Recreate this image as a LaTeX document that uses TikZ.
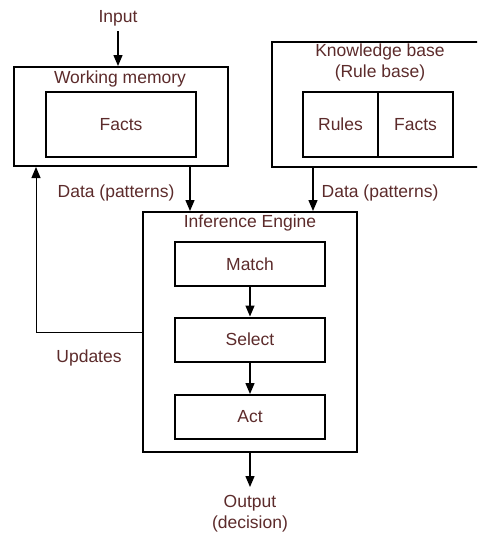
\documentclass[tikz,border=0pt]{standalone}
\usepackage{fontspec}
\setmainfont{Liberation Sans}
\usetikzlibrary{arrows.meta}
\definecolor{txt}{HTML}{5C2B2B}
\begin{document}
\begin{tikzpicture}[x=1pt,y=-1pt,
  lbl/.style={text=txt,font=\fontsize{17.5}{21}\selectfont,inner sep=0pt},
  outerbox/.style={draw,line width=2pt,rectangle,inner sep=0pt},
  innerbox/.style={draw,line width=2pt,rectangle,inner sep=0pt,text=txt,font=\fontsize{17.5}{21}\selectfont},
  flow/.style={line width=1.4pt,-{Triangle[width=9pt,length=11pt]}},
  thin flow/.style={line width=1pt,-{Triangle[width=9pt,length=11pt]}}]
\useasboundingbox (0,0) rectangle (477,533);
\clip (0,0) rectangle (477,533);

% working memory
\node[lbl] (input) at (118,18) {Input};
\node[outerbox,minimum width=214pt,minimum height=99pt] (wm) at (121,116.5) {};
\node[lbl] (wmlabel) at (120,79) {Working memory};
\node[innerbox,minimum width=150pt,minimum height=65pt] (wmfacts) at (121,124.5) {Facts};

% knowledge base (runs past the right edge)
\node[outerbox,minimum width=218pt,minimum height=125pt] (kb) at (381,104.5) {};
\node[lbl] (kblabel) at (380,52) {Knowledge base};
\node[lbl] (kblabel2) at (380,73) {(Rule base)};
\node[innerbox,minimum width=75pt,minimum height=65pt] (rules) at (340.5,124.5) {Rules};
\node[innerbox,minimum width=75pt,minimum height=65pt] (kbfacts) at (415.5,124.5) {Facts};

% inference engine
\node[outerbox,minimum width=214pt,minimum height=240pt] (ie) at (250,332) {};
\node[lbl] (ielabel) at (250,223) {Inference Engine};
\node[innerbox,minimum width=150pt,minimum height=44pt] (match) at (250,264) {Match};
\node[innerbox,minimum width=150pt,minimum height=44pt] (select) at (250,339.5) {Select};
\node[innerbox,minimum width=150pt,minimum height=44pt] (act) at (250,417) {Act};

% side labels and output
\node[lbl] (dataL) at (116,193) {Data (patterns)};
\node[lbl] (dataR) at (380,193) {Data (patterns)};
\node[lbl] (updates) at (89,358) {Updates};
\node[lbl,align=center] (output) at (250,514) {Output\\(decision)};
\coordinate (outend) at (250,487);
\coordinate (upcorner) at (36,332);

% connectors
\draw[flow] (input.south) ++(0,5) -- (input.south |- wm.north);
\draw[flow] (wm.south -| 190,0) -- (ie.north -| 190,0);
\draw[flow] (kb.south -| 313,0) -- (ie.north -| 313,0);
\draw[flow] (match) -- (select);
\draw[flow] (select) -- (act);
\draw[flow] (ie.south) -- (outend);
\draw[thin flow] (ie.west |- upcorner) -- (upcorner) -- (upcorner |- wm.south);
\end{tikzpicture}
\end{document}
